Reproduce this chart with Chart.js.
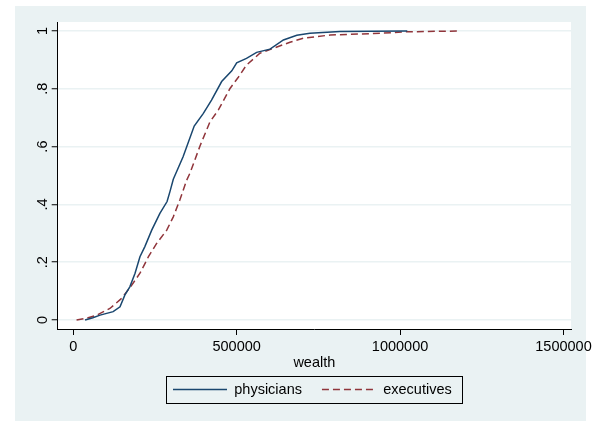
<!DOCTYPE html>
<html><head><meta charset="utf-8">
<script src="https://cdn.jsdelivr.net/npm/chart.js@4.4.1/dist/chart.umd.min.js"></script>
<style>html,body{margin:0;padding:0;background:#fff;}canvas{display:block;}</style>
</head><body>
<canvas id="c" width="600" height="421"></canvas>
<script>
const seriesNames = ['physicians', 'executives'];
const xTitle = 'wealth';
const physWealth = [36000, 60000, 82000, 122000, 143000, 158000, 173000, 189000, 204000, 219000, 240000, 265000, 287000, 296000, 306000, 336000, 370000, 398000, 423000, 454000, 485000, 500000, 530000, 561000, 602000, 643000, 684000, 724000, 816000, 1022000];
const physCdf    = [0, 0.008, 0.017, 0.029, 0.046, 0.087, 0.115, 0.162, 0.219, 0.254, 0.311, 0.369, 0.41, 0.445, 0.487, 0.565, 0.671, 0.715, 0.761, 0.825, 0.862, 0.89, 0.905, 0.926, 0.937, 0.969, 0.985, 0.992, 0.998, 1.0];
const execWealth = [10000, 40000, 72000, 112000, 148000, 179000, 204000, 230000, 255000, 286000, 306000, 326000, 347000, 357000, 388000, 418000, 444000, 479000, 505000, 530000, 571000, 612000, 663000, 704000, 786000, 918000, 1020000, 1185000];
const execCdf    = [0, 0.006, 0.017, 0.040, 0.075, 0.121, 0.162, 0.219, 0.265, 0.311, 0.357, 0.415, 0.484, 0.508, 0.603, 0.685, 0.727, 0.80, 0.84, 0.882, 0.923, 0.940, 0.961, 0.975, 0.986, 0.991, 0.997, 1.0];
const xTickValues = [0, 500000, 1000000, 1500000];
const xTickLabels = ['0', '500000', '1000000', '1500000'];
const yTickValues = [0, 0.2, 0.4, 0.6, 0.8, 1];
const yTickLabels = ['0', '.2', '.4', '.6', '.8', '1'];

const toPts = (xs, ys) => xs.map((x, i) => ({x: x, y: ys[i]}));

Chart.defaults.font.family = '"Liberation Sans", Arial, Helvetica, sans-serif';
Chart.defaults.font.size = 14.5;
Chart.defaults.color = '#000';

const BG = '#EAF2F3';
const LEG_START = 173, LEG_CY = 389.5;
const LEG_BOX = {left: 166, right: 462, top: 376, bottom: 403};

const bgPlugin = {
  id: 'bg',
  beforeDraw(chart) {
    const {ctx, chartArea: a} = chart;
    ctx.save();
    ctx.fillStyle = '#fff';
    ctx.fillRect(0, 0, chart.width, chart.height);
    ctx.fillStyle = BG;
    ctx.fillRect(15, 6, 571, chart.height - 6);
    ctx.fillStyle = '#fff';
    ctx.fillRect(a.left, a.top, a.right - a.left, a.bottom - a.top);
    ctx.restore();
  }
};

const legendPlugin = {
  id: 'legendPos',
  afterLayout(chart) {
    const lg = chart.legend;
    const pad = lg.options.labels.padding;
    const lw = lg.lineWidths[0];
    const ih = lg.options.labels.font.size;
    lg.left = LEG_START - pad;
    lg.right = LEG_START + lw;
    lg.width = lg.right - lg.left;
    lg.top = LEG_CY - pad - ih / 2;
    lg.bottom = lg.top + lg.height;
  },
  afterDraw(chart) {
    const ctx = chart.ctx;
    ctx.save();
    ctx.strokeStyle = '#000';
    ctx.lineWidth = 1;
    ctx.strokeRect(LEG_BOX.left + 0.5, LEG_BOX.top + 0.5, LEG_BOX.right - LEG_BOX.left, LEG_BOX.bottom - LEG_BOX.top);
    ctx.restore();
  }
};

new Chart(document.getElementById('c'), {
  type: 'line',
  data: {
    datasets: [
      {label: seriesNames[0], data: toPts(physWealth, physCdf), borderColor: '#1a476f', backgroundColor: '#1a476f', borderWidth: 1.5, pointRadius: 0, tension: 0, fill: false},
      {label: seriesNames[1], data: toPts(execWealth, execCdf), borderColor: '#90353b', backgroundColor: '#90353b', borderWidth: 1.5, borderDash: [7, 4], pointRadius: 0, tension: 0, fill: false}
    ]
  },
  options: {
    responsive: false,
    animation: false,
    devicePixelRatio: 1,
    layout: {padding: {left: 17.7, top: 22, right: 29, bottom: 5}},
    plugins: {
      tooltip: {enabled: false},
      legend: {
        position: 'bottom',
        labels: {
          usePointStyle: true, pointStyle: 'line', pointStyleWidth: 54, padding: 20, color: '#000', font: {size: 14.5},
          generateLabels(chart) {
            const items = Chart.defaults.plugins.legend.labels.generateLabels(chart);
            items.forEach(it => {
              const ds = chart.data.datasets[it.datasetIndex];
              it.lineDash = ds.borderDash || [];
              it.lineWidth = ds.borderWidth;
              it.strokeStyle = ds.borderColor;
              it.pointStyle = 'line';
            });
            return items;
          }
        }
      }
    },
    scales: {
      x: {
        type: 'linear',
        min: -47700,
        max: 1523000,
        afterBuildTicks(s) { s.ticks = xTickValues.map(v => ({value: v})); },
        afterFit(s) { s.height = 42.5; },
        ticks: {callback: (v) => xTickLabels[xTickValues.indexOf(v)], padding: 3, maxRotation: 0, minRotation: 0, color: '#000', font: {size: 14.5}},
        grid: {drawOnChartArea: false, drawTicks: true, tickLength: 6, tickColor: '#000', tickWidth: 1},
        border: {display: true, color: '#000', width: 1},
        title: {display: true, text: xTitle, color: '#000', font: {size: 14.5, lineHeight: 1.2}, padding: {top: 0, bottom: 0}}
      },
      y: {
        type: 'linear',
        min: -0.031,
        max: 1.031,
        afterBuildTicks(s) { s.ticks = yTickValues.map(v => ({value: v})); },
        afterFit(s) { s.width = 40; },
        ticks: {callback: (v) => yTickLabels[yTickValues.indexOf(v)], minRotation: 90, maxRotation: 90, crossAlign: 'center', padding: 3, color: '#000', font: {size: 14.5}},
        grid: {color: BG, lineWidth: 1.5, drawTicks: true, tickLength: 6, tickColor: '#000', tickWidth: 1},
        border: {display: true, color: '#000', width: 1}
      }
    }
  },
  plugins: [bgPlugin, legendPlugin]
});
</script>
</body></html>
